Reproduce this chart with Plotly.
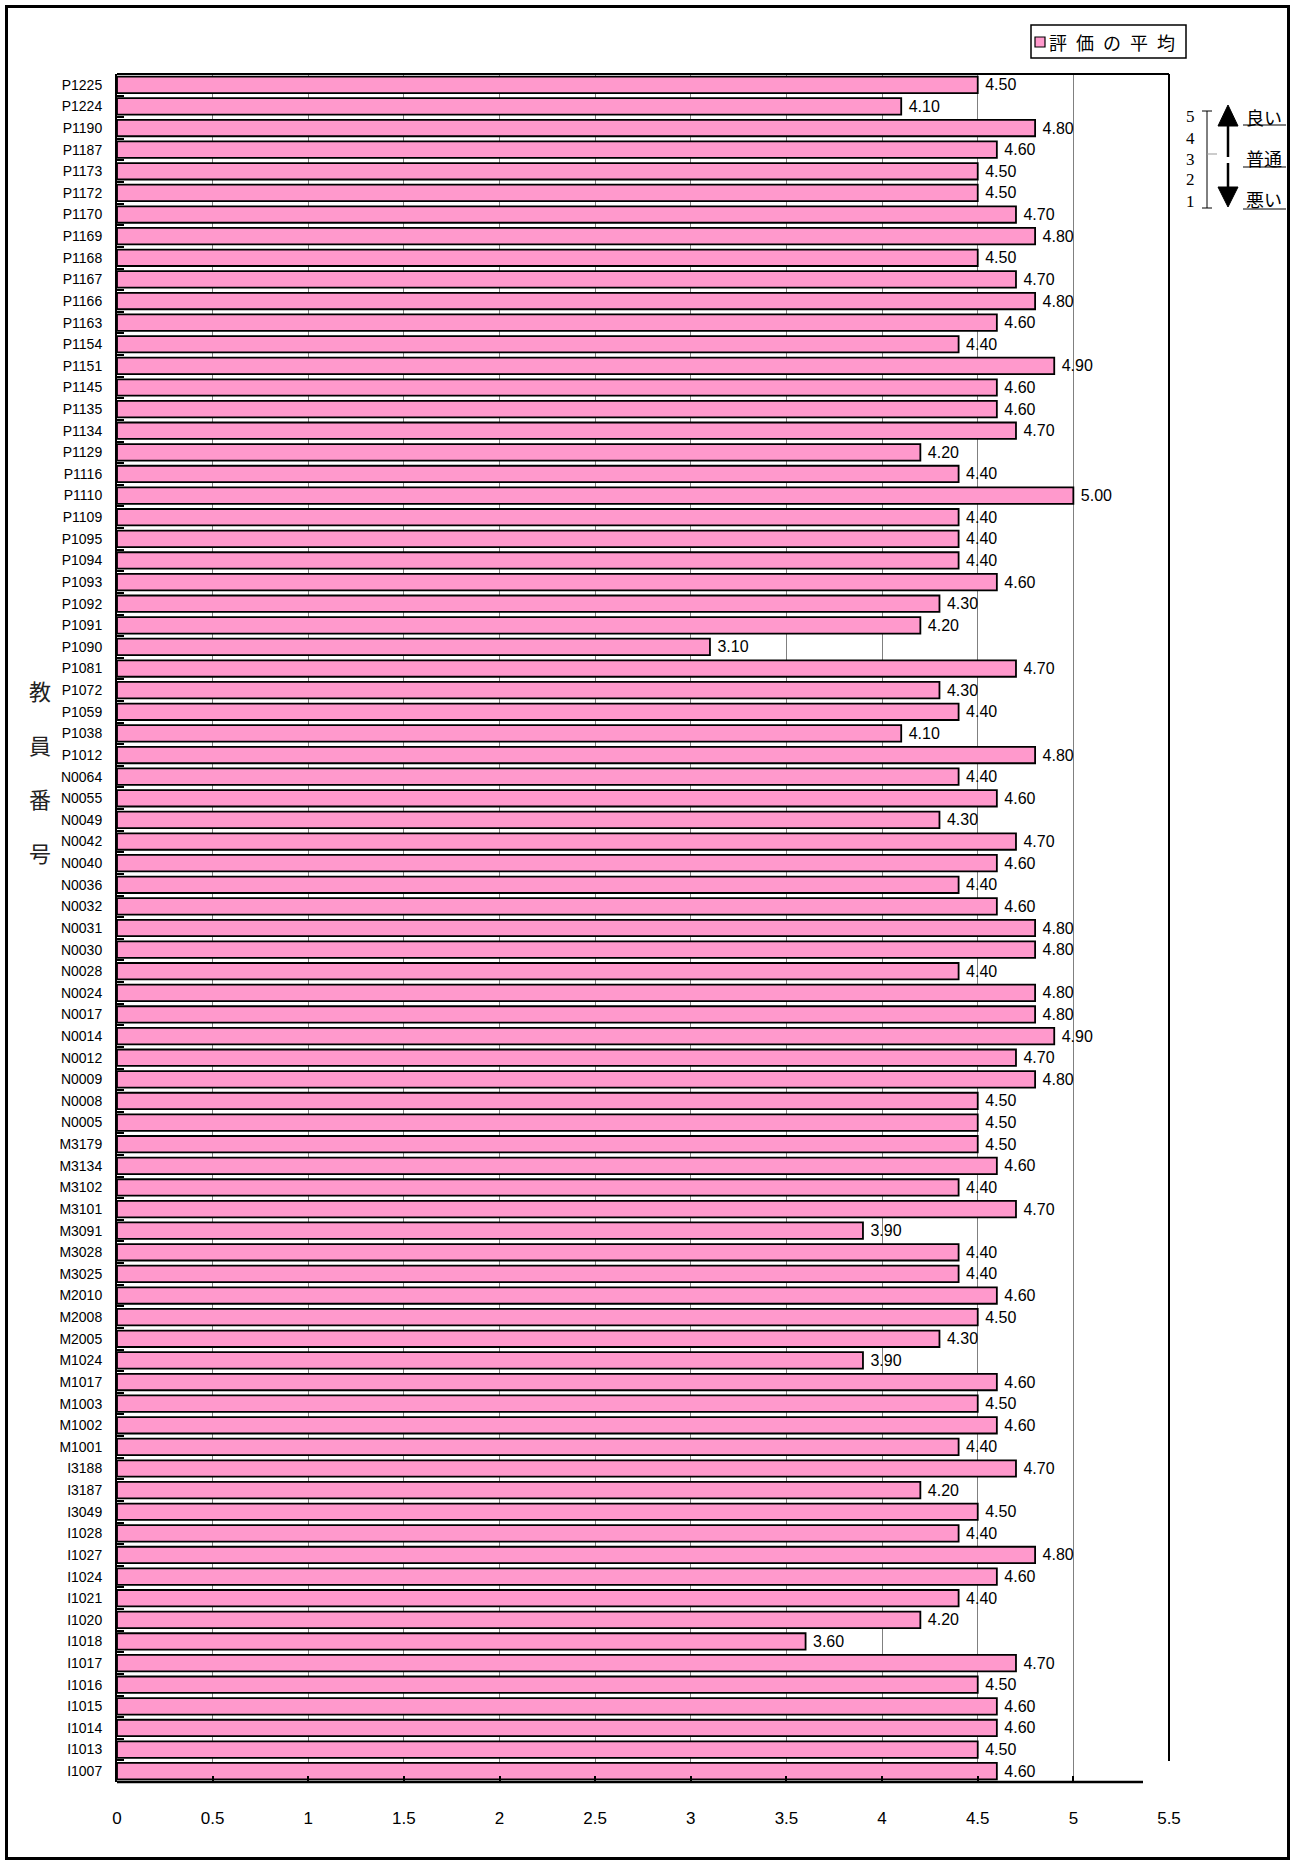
import plotly.graph_objects as go

# ---- data (top to bottom as in the chart) ----
teachers = [
    "P1225", "P1224", "P1190", "P1187", "P1173", "P1172", "P1170", "P1169", "P1168", "P1167",
    "P1166", "P1163", "P1154", "P1151", "P1145", "P1135", "P1134", "P1129", "P1116", "P1110",
    "P1109", "P1095", "P1094", "P1093", "P1092", "P1091", "P1090", "P1081", "P1072", "P1059",
    "P1038", "P1012",
    "N0064", "N0055", "N0049", "N0042", "N0040", "N0036", "N0032", "N0031", "N0030", "N0028",
    "N0024", "N0017", "N0014", "N0012", "N0009", "N0008", "N0005",
    "M3179", "M3134", "M3102", "M3101", "M3091", "M3028", "M3025", "M2010", "M2008", "M2005",
    "M1024", "M1017", "M1003", "M1002", "M1001",
    "I3188", "I3187", "I3049", "I1028", "I1027", "I1024", "I1021", "I1020", "I1018", "I1017",
    "I1016", "I1015", "I1014", "I1013", "I1007",
]
scores = [
    4.5, 4.1, 4.8, 4.6, 4.5, 4.5, 4.7, 4.8, 4.5, 4.7,
    4.8, 4.6, 4.4, 4.9, 4.6, 4.6, 4.7, 4.2, 4.4, 5.0,
    4.4, 4.4, 4.4, 4.6, 4.3, 4.2, 3.1, 4.7, 4.3, 4.4,
    4.1, 4.8,
    4.4, 4.6, 4.3, 4.7, 4.6, 4.4, 4.6, 4.8, 4.8, 4.4,
    4.8, 4.8, 4.9, 4.7, 4.8, 4.5, 4.5,
    4.5, 4.6, 4.4, 4.7, 3.9, 4.4, 4.4, 4.6, 4.5, 4.3,
    3.9, 4.6, 4.5, 4.6, 4.4,
    4.7, 4.2, 4.5, 4.4, 4.8, 4.6, 4.4, 4.2, 3.6, 4.7,
    4.5, 4.6, 4.6, 4.5, 4.6,
]
x_ticks = [0, 0.5, 1, 1.5, 2, 2.5, 3, 3.5, 4, 4.5, 5, 5.5]
x_tick_text = ["0", "0.5", "1", "1.5", "2", "2.5", "3", "3.5", "4", "4.5", "5", "5.5"]
series_name = "評価の平均"
axis_title_chars = ["教", "員", "番", "号"]
scale_numbers = ["5", "4", "3", "2", "1"]
scale_words = ["良い", "普通", "悪い"]

W, H = 1294, 1865
L, R, T, B = 117, 1169, 74, 1782   # plot area in pixels


def px(x):
    return (x - L) / (R - L)


def py(y):
    return (B - y) / (B - T)


PINK = "#FF99CC"
SANS = "Liberation Sans, Arial, sans-serif"
CJK = "Noto Sans CJK JP, sans-serif"
SERIF = "Liberation Serif, DejaVu Serif, serif"

fig = go.Figure()
fig.add_trace(go.Bar(
    x=scores, y=teachers, orientation="h", name=series_name,
    marker=dict(color=PINK, line=dict(color="black", width=1.8)),
    texttemplate="\u00a0%{x:.2f}", textposition="outside", constraintext="none",
    textfont=dict(family=SANS, size=16, color="black"),
    cliponaxis=False, showlegend=False,
))

fig.update_layout(
    width=W, height=H,
    margin=dict(l=L, r=W - R, t=T, b=H - B),
    paper_bgcolor="white", plot_bgcolor="white",
    bargap=0.24,
    font=dict(family=SANS, color="black"),
    xaxis=dict(
        range=[0, 5.5], tickvals=x_ticks, ticktext=x_tick_text,
        showgrid=True, gridcolor="#808080", gridwidth=1,
        ticks="inside", ticklen=6, tickwidth=2, tickcolor="black",
        showline=False, zeroline=False,
        tickfont=dict(family=SANS, size=17, color="black"),
        ticklabelstandoff=24,
    ),
    yaxis=dict(
        autorange="reversed", type="category",
        showline=True, linecolor="black", linewidth=2,
        ticks="inside", ticklen=7, tickwidth=2, tickcolor="black",
        tickson="boundaries", showgrid=False,
        tickfont=dict(family=SANS, size=14, color="black"),
        ticklabelstandoff=10,
    ),
)

shapes = []
# outer border
shapes.append(dict(type="rect", xref="paper", yref="paper",
                   x0=px(6.5), x1=px(1288.5), y0=py(6.5), y1=py(1858.5),
                   line=dict(color="black", width=3), fillcolor="rgba(0,0,0,0)", layer="above"))
# plot frame: top, right (partial), bottom axis line (partial)
shapes.append(dict(type="line", xref="paper", yref="paper", x0=0, x1=1, y0=1, y1=1,
                   line=dict(color="black", width=2)))
shapes.append(dict(type="line", xref="paper", yref="paper", x0=1, x1=1, y0=1, y1=py(1761),
                   line=dict(color="black", width=2)))
shapes.append(dict(type="line", xref="paper", yref="paper", x0=0, x1=px(1143), y0=0, y1=0,
                   line=dict(color="black", width=2.5), layer="above"))
# legend box
shapes.append(dict(type="rect", xref="paper", yref="paper",
                   x0=px(1031), x1=px(1186), y0=py(25), y1=py(58),
                   line=dict(color="black", width=1.5), fillcolor="white"))
shapes.append(dict(type="rect", xref="paper", yref="paper",
                   x0=px(1035), x1=px(1045), y0=py(37), y1=py(47),
                   line=dict(color="black", width=1.2), fillcolor=PINK))
# scale bracket
bk = dict(color="black", width=1)
shapes.append(dict(type="line", xref="paper", yref="paper", x0=px(1207), x1=px(1207), y0=py(111), y1=py(208), line=bk))
shapes.append(dict(type="line", xref="paper", yref="paper", x0=px(1202), x1=px(1212), y0=py(111), y1=py(111), line=bk))
shapes.append(dict(type="line", xref="paper", yref="paper", x0=px(1202), x1=px(1212), y0=py(208), y1=py(208), line=bk))
shapes.append(dict(type="line", xref="paper", yref="paper", x0=px(1207), x1=px(1217), y0=py(154), y1=py(154),
                   line=dict(color="#999999", width=1)))
# arrows
ar = dict(color="black", width=2.5)
shapes.append(dict(type="line", xref="paper", yref="paper", x0=px(1228), x1=px(1228), y0=py(124), y1=py(157), line=ar))
shapes.append(dict(type="line", xref="paper", yref="paper", x0=px(1228), x1=px(1228), y0=py(163), y1=py(189), line=ar))


def tri(points):
    d = "M " + " L ".join(f"{px(a)},{py(b)}" for a, b in points) + " Z"
    return dict(type="path", xref="paper", yref="paper", path=d,
                fillcolor="black", line=dict(color="black", width=1))


shapes.append(tri([(1228, 105), (1238, 126), (1218, 126)]))
shapes.append(tri([(1218, 187), (1238, 187), (1228, 207)]))
# underlines
for yy in (125, 167, 209):
    shapes.append(dict(type="line", xref="paper", yref="paper", x0=px(1243), x1=px(1286),
                       y0=py(yy), y1=py(yy), line=dict(color="black", width=1)))
fig.update_layout(shapes=shapes)

ann = []
# legend text
ann.append(dict(xref="paper", yref="paper", x=px(1047), y=py(42), xanchor="left", yanchor="middle",
                text="\u2002".join(series_name), showarrow=False,
                font=dict(family=CJK, size=18, color="black")))
# vertical axis title
for i, ch in enumerate(axis_title_chars):
    ann.append(dict(xref="paper", yref="paper", x=px(40), y=py(690 + i * 54),
                    xanchor="center", yanchor="middle", text=ch, showarrow=False,
                    font=dict(family=CJK, size=22, color="#222222")))
# scale numbers
for i, s in enumerate(scale_numbers):
    ann.append(dict(xref="paper", yref="paper", x=px(1190), y=py(117 + i * 21),
                    xanchor="center", yanchor="middle", text=s, showarrow=False,
                    font=dict(family=SERIF, size=17, color="black")))
# scale words
for yy, w in zip((117, 158, 199), scale_words):
    ann.append(dict(xref="paper", yref="paper", x=px(1264), y=py(yy),
                    xanchor="center", yanchor="middle", text=w, showarrow=False,
                    font=dict(family=CJK, size=18, color="black")))
fig.update_layout(annotations=ann)

fig.write_html(
    "out.html",
    config={"displayModeBar": False},
    post_script="document.body.style.margin='0';document.body.style.overflow='hidden';",
)
